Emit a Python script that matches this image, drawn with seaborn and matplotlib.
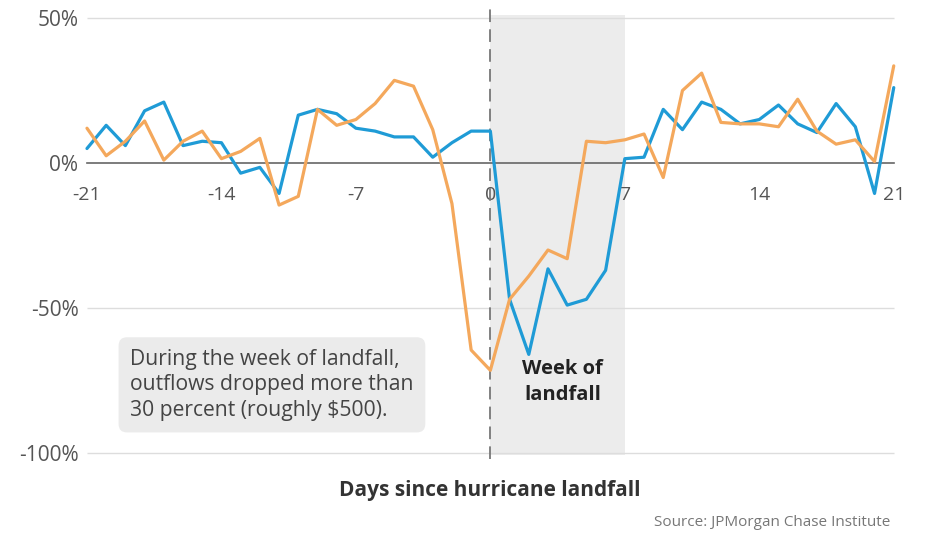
import numpy as np
import pandas as pd
import matplotlib
matplotlib.use("Agg")
import matplotlib.pyplot as plt
from matplotlib.ticker import MultipleLocator
import seaborn as sns

# ---- data (percent change, by day) ----
days = list(range(-21, 22))
blue_vals = [5, 13, 6, 18, 21, 6, 7.5, 7, -3.5, -1.5, -10.5, 16.5, 18.5, 17, 12,
             11, 9, 9, 2, 7, 11, 11, -47, -66, -36.5, -49, -47, -37, 1.5, 2,
             18.5, 11.5, 21, 18.5, 13.5, 15, 20, 13.5, 10.5, 20.5, 12.5, -10.5, 26]
orange_vals = [12, 2.5, 7.5, 14.5, 1, 7.5, 11, 1.5, 4, 8.5, -14.5, -11.5, 18.5, 13, 15,
               20.5, 28.5, 26.5, 11.5, -14, -64.5, -71.5, -47, -39, -30, -33, 7.5, 7,
               8, 10, -5, 25, 31, 14, 13.5, 13.5, 12.5, 22, 11, 6.5, 8, 0.5, 33.5]
series_names = ["Series A", "Series B"]
colors = ["#1f9bd6", "#f4a85c"]

x_ticks = [-21, -14, -7, 0, 7, 14, 21]
y_ticks = [50, 0, -50, -100]
y_labels = ["50%", "0%", "-50%", "-100%"]
week_start, week_end = 0, 7

note = "During the week of landfall,\noutflows dropped more than\n30 percent (roughly $500)."

df = pd.concat([
    pd.DataFrame({"day": days, "value": blue_vals, "series": series_names[0]}),
    pd.DataFrame({"day": days, "value": orange_vals, "series": series_names[1]}),
])

sns.set_theme(style="white")
plt.rcParams["font.family"] = ["Open Sans", "DejaVu Sans"]

fig = plt.figure(figsize=(9.26, 5.44), dpi=100)
ax = fig.add_axes([0.0877, 0.1513, 0.8837, 0.8369])

# shaded landfall week + dashed landfall marker
ax.fill_betweenx([-100.7, 51.2], week_start, week_end, color="#ececec", lw=0, zorder=0)
ax.vlines(0, -102, 53, colors="#777777", linestyles=(0, (7, 4)), linewidth=1.3, zorder=1)

# light gridlines
ax.hlines([50, -50, -100], -21, 21, colors="#dddddd", linewidth=1, zorder=0.5)

sns.lineplot(data=df, x="day", y="value", hue="series", palette=colors,
             linewidth=2.3, legend=False, ax=ax, zorder=3)

ax.set_xlim(-21.3, 21.3)
ax.set_ylim(-103, 54)

for s in ["top", "right", "left"]:
    ax.spines[s].set_visible(False)
ax.spines["bottom"].set_position(("data", 0))
ax.spines["bottom"].set_bounds(-21, 21)
ax.spines["bottom"].set_color("#666666")
ax.spines["bottom"].set_linewidth(1.2)
ax.spines["bottom"].set_zorder(2)

ax.set_xticks(x_ticks)
ax.set_xticklabels([str(t) for t in x_ticks])
ax.xaxis.set_minor_locator(MultipleLocator(1))
ax.tick_params(axis="x", which="major", direction="inout", length=13, width=1,
               color="#666666", labelsize=14, labelcolor="#555555", pad=10)
ax.tick_params(axis="x", which="minor", direction="inout", length=8, width=0.9,
               color="#666666")
ax.set_yticks(y_ticks)
ax.set_yticklabels(y_labels)
ax.tick_params(axis="y", length=0, labelsize=15, labelcolor="#555555", pad=2)
ax.set_xlabel("")
ax.set_ylabel("")

ax.text(-18.75, -76.5, note, ha="left", va="center", fontsize=15.2, color="#444444",
        linespacing=1.28,
        bbox=dict(boxstyle="round,pad=0.55,rounding_size=0.4", fc="#ebebeb", ec="none"),
        zorder=4)
ax.text(3.75, -75.5, "Week of\nlandfall", ha="center", va="center", fontsize=14.5,
        fontweight="bold", color="#222222", linespacing=1.35, zorder=4)

fig.text(0.529, 0.099, "Days since hurricane landfall", ha="center", va="center",
         fontsize=15, fontweight="bold", color="#333333")
fig.text(0.961, 0.040, "Source: JPMorgan Chase Institute", ha="right", va="center",
         fontsize=11, color="#777777")

fig.savefig("out.png", dpi=100)
